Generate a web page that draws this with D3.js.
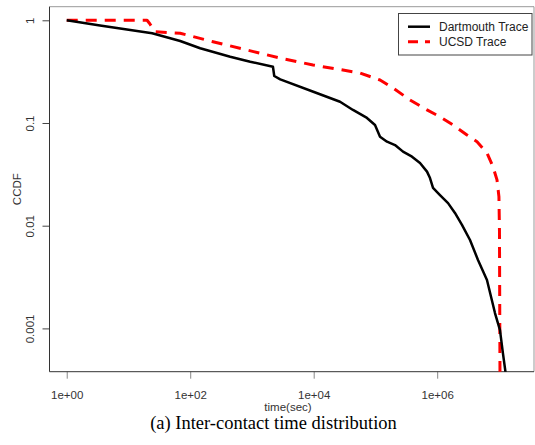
<!DOCTYPE html>
<html>
<head>
<meta charset="utf-8">
<script src="https://d3js.org/d3.v7.min.js"></script>
<style>
  body { margin: 0; background: #fff; }
  svg { display: block; }
  .tick text { font-family: "Liberation Sans", Arial, sans-serif; font-size: 11.5px; fill: #333; }
</style>
</head>
<body>
<svg id="vis"></svg>
<script>
  // Dartmouth trace: [time(sec), CCDF]
  var dartmouth = [
    [1, 1], [3.46, 0.888], [24.2, 0.747], [68.8, 0.629], [145, 0.534],
    [444, 0.442], [937, 0.395], [2188, 0.353], [2297, 0.287], [2873, 0.266],
    [9860, 0.2017], [26700, 0.161], [43300, 0.134], [72900, 0.112], [98400, 0.0957],
    [118600, 0.0736], [153900, 0.0658], [207500, 0.061], [279500, 0.0526],
    [391000, 0.047], [527000, 0.0408], [684000, 0.0336], [765000, 0.0291],
    [856000, 0.0233], [1.11e6, 0.0199], [1.5e6, 0.0166], [1.94e6, 0.0133],
    [2.52e6, 0.0102], [3.4e6, 0.00726], [4.58e6, 0.00464], [6.4e6, 0.00296],
    [8.63e6, 0.00141], [1.04e7, 0.000964], [1.16e7, 0.000575], [1.29e7, 0.00036]
  ]

  // UCSD trace
  var ucsd = [
    [1, 1], [20, 1], [22, 0.93], [26.9, 0.774], [68.8, 0.747], [234, 0.619],
    [831, 0.514], [2846, 0.429], [9750, 0.367], [56200, 0.307], [118600, 0.262],
    [192500, 0.219], [363000, 0.1675], [684000, 0.134], [1.11e6, 0.115],
    [1.8e6, 0.0957], [3.04e6, 0.0764], [4.42e6, 0.0658], [6.41e6, 0.051],
    [8.02e6, 0.0375], [9.31e6, 0.0279], [1.0e7, 0.0192], [1.02e7, 0.00908],
    [1.04e7, 0.00036]
  ]

  var xTicks = [1, 1e2, 1e4, 1e6]
  var xTickLabels = ["1e+00", "1e+02", "1e+04", "1e+06"]
  var yTicks = [1, 0.1, 0.01, 0.001]
  var yTickLabels = ["1", "0.1", "0.01", "0.001"]
  var seriesNames = ["Dartmouth Trace", "UCSD Trace"]

  var W = 535, H = 445
  var plot = {left: 49.5, top: 6.7, right: 534, bottom: 371.7}

  var svg = d3.select('#vis')
    .attr('width', W)
    .attr('height', H)

  var x_scale = d3.scaleLog()
    .domain([Math.pow(10, -0.279), Math.pow(10, 7.568)])
    .range([plot.left, plot.right])

  var y_scale = d3.scaleLog()
    .domain([Math.pow(10, -3.4216), Math.pow(10, 0.1324)])
    .range([plot.bottom, plot.top])

  svg.append('clipPath').attr('id', 'clip')
    .append('rect')
      .attr('x', plot.left).attr('y', plot.top)
      .attr('width', plot.right - plot.left)
      .attr('height', plot.bottom - plot.top)

  // Axes
  var x_axis = d3.axisBottom(x_scale)
    .tickValues(xTicks)
    .tickSize(7)
    .tickPadding(12)
    .tickFormat(function(d, i) { return xTickLabels[i] })

  var gx = svg.append('g')
    .attr('transform', 'translate(0,' + plot.bottom + ')')
    .call(x_axis)
  gx.select('.domain').remove()
  gx.selectAll('.tick line').attr('stroke', '#888')

  var y_axis = d3.axisLeft(y_scale)
    .tickValues(yTicks)
    .tickSize(7)
    .tickFormat(function(d, i) { return yTickLabels[i] })

  var gy = svg.append('g')
    .attr('transform', 'translate(' + plot.left + ',0)')
    .call(y_axis)
  gy.select('.domain').remove()
  gy.selectAll('.tick line').attr('stroke', '#444')
  gy.selectAll('.tick text')
    .attr('x', 0).attr('y', -16).attr('dy', 0)
    .attr('text-anchor', 'middle')
    .attr('transform', 'rotate(-90)')

  // frame
  svg.append('line').attr('x1', plot.left).attr('x2', plot.right)
    .attr('y1', plot.top).attr('y2', plot.top).attr('stroke', '#999')
  svg.append('line').attr('x1', plot.right).attr('x2', plot.right)
    .attr('y1', plot.top).attr('y2', plot.bottom).attr('stroke', '#999')
  svg.append('line').attr('x1', plot.left).attr('x2', plot.left)
    .attr('y1', plot.top).attr('y2', plot.bottom).attr('stroke', '#333')
  svg.append('line').attr('x1', plot.left).attr('x2', plot.right)
    .attr('y1', plot.bottom).attr('y2', plot.bottom).attr('stroke', '#333')

  // Lines
  var line = d3.line()
    .x(function(d) { return x_scale(d[0]) })
    .y(function(d) { return y_scale(d[1]) })

  var lines = svg.append('g').attr('clip-path', 'url(#clip)')
  lines.append('path')
    .datum(ucsd)
    .attr('d', line)
    .attr('fill', 'none')
    .attr('stroke', '#ff0000')
    .attr('stroke-width', 3)
    .attr('stroke-dasharray', '11,8')
    .attr('stroke-linejoin', 'round')
  lines.append('path')
    .datum(dartmouth)
    .attr('d', line)
    .attr('fill', 'none')
    .attr('stroke', '#000')
    .attr('stroke-width', 2.5)
    .attr('stroke-linejoin', 'round')

  // Axis titles
  svg.append('text')
    .attr('x', 288)
    .attr('y', 411)
    .attr('text-anchor', 'middle')
    .style('font-family', '"Liberation Sans", Arial, sans-serif')
    .style('font-size', '11.5px')
    .attr('fill', '#333')
    .text('time(sec)')

  svg.append('text')
    .attr('transform', 'translate(20.5,' + ((plot.top + plot.bottom) / 2) + ') rotate(-90)')
    .attr('text-anchor', 'middle')
    .style('font-family', '"Liberation Sans", Arial, sans-serif')
    .style('font-size', '11.5px')
    .attr('fill', '#333')
    .text('CCDF')

  // Caption
  svg.append('text')
    .attr('x', 273.5)
    .attr('y', 429)
    .attr('text-anchor', 'middle')
    .style('font-family', '"Liberation Serif", "Times New Roman", serif')
    .style('font-size', '18.5px')
    .attr('fill', '#000')
    .text('(a) Inter-contact time distribution')

  // Legend
  var legend = svg.append('g')
  legend.append('rect')
    .attr('x', 398.5).attr('y', 13.5)
    .attr('width', 133.5).attr('height', 41.5)
    .attr('fill', '#fff')
    .attr('stroke', '#444')
  var styles = [
    {color: '#000', width: 2.5, dash: null},
    {color: '#ff0000', width: 3, dash: '10,7'}
  ]
  seriesNames.forEach(function(name, i) {
    var yy = 26.7 + i * 15
    legend.append('line')
      .attr('x1', 408).attr('x2', 430)
      .attr('y1', yy).attr('y2', yy)
      .attr('stroke', styles[i].color)
      .attr('stroke-width', styles[i].width)
      .attr('stroke-dasharray', styles[i].dash)
    legend.append('text')
      .attr('x', 439).attr('y', yy + 4.3)
      .style('font-family', '"Liberation Sans", Arial, sans-serif')
      .style('font-size', '12px')
      .attr('fill', '#222')
      .text(name)
  })
</script>
</body>
</html>
